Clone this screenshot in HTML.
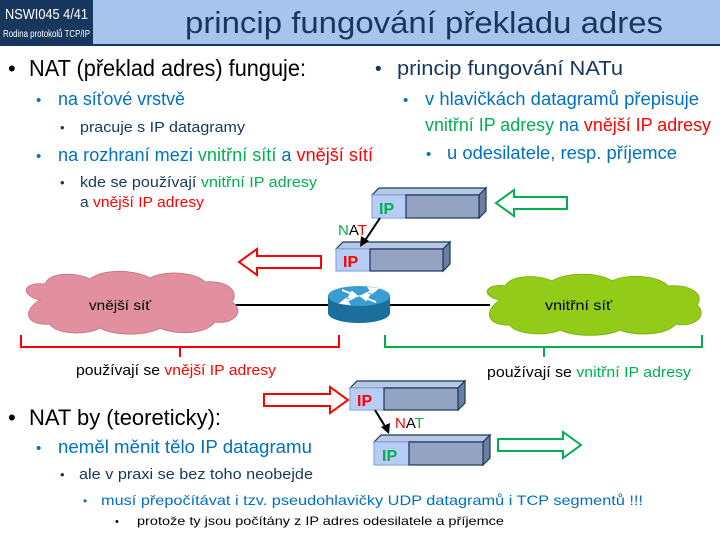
<!DOCTYPE html>
<html><head><meta charset="utf-8"><style>
html,body{margin:0;padding:0;background:#fff}
svg{display:block}
text{font-family:"Liberation Sans",sans-serif}
</style></head><body>
<svg width="720" height="540" viewBox="0 0 720 540" xmlns="http://www.w3.org/2000/svg">
<!-- header -->
<rect x="0" y="0" width="720" height="45" fill="#a8c4ec"/>
<rect x="0" y="0" width="93" height="45" fill="#17375e"/>
<rect x="0" y="44" width="720" height="2" fill="#17375e"/>
<text x="5" y="19" font-size="15" fill="#fff" textLength="83" lengthAdjust="spacingAndGlyphs">NSWI045  4/41</text>
<text x="3" y="37" font-size="10" fill="#fff" textLength="87" lengthAdjust="spacingAndGlyphs">Rodina protokolů TCP/IP</text>
<text x="185" y="33" font-size="31" fill="#17375e" textLength="478" lengthAdjust="spacingAndGlyphs">princip fungování překladu adres</text>

<!-- left top text -->
<text x="8" y="76" font-size="22" fill="#000">•</text>
<text x="29" y="76" font-size="23" fill="#000" textLength="277" lengthAdjust="spacingAndGlyphs">NAT (překlad adres) funguje:</text>
<text x="36" y="105" font-size="15" fill="#0070c0">•</text>
<text x="58" y="105" font-size="18" fill="#0070c0" textLength="127" lengthAdjust="spacingAndGlyphs">na síťové vrstvě</text>
<text x="60" y="132" font-size="13" fill="#17375e">•</text>
<text x="80" y="132" font-size="15" fill="#17375e" textLength="165" lengthAdjust="spacingAndGlyphs">pracuje s IP datagramy</text>
<text x="36" y="161" font-size="15" fill="#0070c0">•</text>
<text x="58" y="161" font-size="18" fill="#0070c0" textLength="315" lengthAdjust="spacingAndGlyphs">na rozhraní mezi <tspan fill="#00b050">vnitřní sítí</tspan> a <tspan fill="#ff0000">vnější sítí</tspan></text>
<text x="60" y="187" font-size="13" fill="#17375e">•</text>
<text x="80" y="187" font-size="15" fill="#17375e" textLength="237" lengthAdjust="spacingAndGlyphs">kde se používají <tspan fill="#00b050">vnitřní IP adresy</tspan></text>
<text x="80" y="207" font-size="15" fill="#17375e" textLength="124" lengthAdjust="spacingAndGlyphs">a <tspan fill="#ff0000">vnější IP adresy</tspan></text>

<!-- right top text -->
<text x="375" y="75" font-size="19" fill="#17375e">•</text>
<text x="397" y="75" font-size="20" fill="#17375e" textLength="226" lengthAdjust="spacingAndGlyphs">princip fungování NATu</text>
<text x="403" y="105" font-size="15" fill="#0070c0">•</text>
<text x="425" y="105" font-size="18" fill="#0070c0" textLength="274" lengthAdjust="spacingAndGlyphs">v hlavičkách datagramů přepisuje</text>
<text x="425" y="131" font-size="18" fill="#0070c0" textLength="286" lengthAdjust="spacingAndGlyphs"><tspan fill="#00b050">vnitřní IP adresy</tspan> na <tspan fill="#ff0000">vnější IP adresy</tspan></text>
<text x="426" y="159" font-size="15" fill="#0070c0">•</text>
<text x="447" y="159" font-size="18" fill="#0070c0" textLength="230" lengthAdjust="spacingAndGlyphs">u odesilatele, resp. příjemce</text>

<!-- packets -->
<g stroke="#17375e" stroke-width="1.2">
 <polygon points="372,195 379,188 486,188 479,195" fill="#b8c8e4"/>
 <polygon points="479,195 486,188 486,211 479,218" fill="#6d7f9e"/>
 <rect x="372" y="195" width="34" height="23" fill="#b7cdf5" stroke="#8eaadb"/>
 <rect x="406" y="195" width="73" height="23" fill="#95a3c3"/>
 <polygon points="336,249 343,242 450,242 443,249" fill="#b8c8e4"/>
 <polygon points="443,249 450,242 450,264 443,271" fill="#6d7f9e"/>
 <rect x="336" y="249" width="34" height="22" fill="#b7cdf5" stroke="#8eaadb"/>
 <rect x="370" y="249" width="73" height="22" fill="#95a3c3"/>
 <polygon points="350,388 357,381 465,381 458,388" fill="#b8c8e4"/>
 <polygon points="458,388 465,381 465,403 458,410" fill="#6d7f9e"/>
 <rect x="350" y="388" width="34" height="22" fill="#b7cdf5" stroke="#8eaadb"/>
 <rect x="384" y="388" width="74" height="22" fill="#95a3c3"/>
 <polygon points="374,442 381,435 490,435 483,442" fill="#b8c8e4"/>
 <polygon points="483,442 490,435 490,458 483,465" fill="#6d7f9e"/>
 <rect x="374" y="442" width="35" height="23" fill="#b7cdf5" stroke="#8eaadb"/>
 <rect x="409" y="442" width="74" height="23" fill="#95a3c3"/>
</g>
<text x="379" y="214" font-size="16" font-weight="bold" fill="#00b050">IP</text>
<text x="343" y="267" font-size="16" font-weight="bold" fill="#ff0000">IP</text>
<text x="357" y="406" font-size="16" font-weight="bold" fill="#ff0000">IP</text>
<text x="382" y="461" font-size="16" font-weight="bold" fill="#00b050">IP</text>

<!-- NAT arrows -->
<line x1="380" y1="218" x2="364" y2="242" stroke="#000" stroke-width="2"/>
<polygon points="360,247 361,236 369,241" fill="#000"/>
<text x="338" y="235" font-size="15" fill="#000"><tspan fill="#00b050">N</tspan>A<tspan fill="#ff0000">T</tspan></text>
<line x1="375" y1="410" x2="386" y2="428" stroke="#000" stroke-width="2"/>
<polygon points="389,434 381,427 390,423" fill="#000"/>
<text x="395" y="428" font-size="15" fill="#000"><tspan fill="#ff0000">N</tspan>A<tspan fill="#00b050">T</tspan></text>

<!-- hollow arrows -->
<polygon points="567,197 514,197 514,190 496,203 514,216 514,209 567,209" fill="#fff" stroke="#00b050" stroke-width="2"/>
<polygon points="321,256 257,256 257,249 239,262 257,275 257,268 321,268" fill="#fff" stroke="#ff0000" stroke-width="2"/>
<polygon points="264,394 330,394 330,387 348,400 330,413 330,406 264,406" fill="#fff" stroke="#ff0000" stroke-width="2"/>
<polygon points="498,439 563,439 563,432 581,445 563,458 563,451 498,451" fill="#fff" stroke="#00b050" stroke-width="2"/>

<!-- line -->
<line x1="230" y1="305" x2="490" y2="305" stroke="#000" stroke-width="2"/>

<!-- pink cloud -->
<path d="M40,300 C20,295 22,282 45,284 C50,272 75,272 90,279 C105,268 135,270 150,278 C165,270 195,272 205,282 C225,280 240,290 232,302 C245,310 235,325 215,322 C205,335 175,335 160,328 C145,336 115,336 100,328 C85,336 55,334 50,324 C28,326 20,312 40,300 Z" fill="#e2909f" stroke="#c77a88"/>
<text x="89" y="310" font-size="14" fill="#000" textLength="62" lengthAdjust="spacingAndGlyphs">vnější síť</text>

<!-- green cloud -->
<path d="M500,300 C480,296 485,283 505,286 C512,274 540,275 552,281 C565,272 600,272 612,281 C628,273 660,276 668,286 C690,284 705,294 697,305 C708,314 696,328 676,324 C665,336 635,336 620,330 C605,337 575,337 560,330 C545,337 515,334 510,325 C488,326 482,312 500,300 Z" fill="#92cc18" stroke="#7fb510"/>
<text x="545" y="310" font-size="14" fill="#000" textLength="67" lengthAdjust="spacingAndGlyphs">vnitřní síť</text>

<!-- router -->
<path d="M328,296 L328,313 A31,10 0 0 0 390,313 L390,296 Z" fill="#1a6f9c"/>
<ellipse cx="359" cy="296" rx="31" ry="10" fill="#3a9cd0"/>
<g stroke="#fff" stroke-width="2" fill="#fff">
<line x1="342" y1="290" x2="355" y2="295"/><polygon points="357,296 349,297 352,292"/>
<line x1="376" y1="302" x2="363" y2="297"/><polygon points="361,296 369,295 366,300"/>
<line x1="363" y1="295" x2="374" y2="290"/><polygon points="377,289 369,288 372,293"/>
<line x1="355" y1="297" x2="344" y2="302"/><polygon points="341,303 349,304 346,299"/>
</g>

<!-- brackets -->
<path d="M21,335 L21,347 L339,347 L339,335 M180,347 L180,357" fill="none" stroke="#ff0000" stroke-width="2"/>
<path d="M385,335 L385,347 L702,347 L702,335 M544,347 L544,357" fill="none" stroke="#00b050" stroke-width="2"/>
<text x="76" y="375" font-size="15" fill="#000" textLength="200" lengthAdjust="spacingAndGlyphs">používají se <tspan fill="#ff0000">vnější IP adresy</tspan></text>
<text x="487" y="377" font-size="15" fill="#000" textLength="204" lengthAdjust="spacingAndGlyphs">používají se <tspan fill="#00b050">vnitřní IP adresy</tspan></text>

<!-- bottom text -->
<text x="8" y="425" font-size="22" fill="#000">•</text>
<text x="29" y="425" font-size="22" fill="#000" textLength="192" lengthAdjust="spacingAndGlyphs">NAT by (teoreticky):</text>
<text x="36" y="453" font-size="15" fill="#0070c0">•</text>
<text x="58" y="453" font-size="18" fill="#0070c0" textLength="254" lengthAdjust="spacingAndGlyphs">neměl měnit tělo IP datagramu</text>
<text x="60" y="479" font-size="13" fill="#17375e">•</text>
<text x="79" y="479" font-size="15" fill="#17375e" textLength="234" lengthAdjust="spacingAndGlyphs">ale v praxi se bez toho neobejde</text>
<text x="83" y="505" font-size="12" fill="#0070c0">•</text>
<text x="101" y="505" font-size="14" fill="#0070c0" textLength="542" lengthAdjust="spacingAndGlyphs">musí přepočítávat i tzv. pseudohlavičky UDP datagramů i TCP segmentů !!!</text>
<text x="115" y="525" font-size="11" fill="#000">•</text>
<text x="137" y="525" font-size="12" fill="#000" textLength="367" lengthAdjust="spacingAndGlyphs">protože ty jsou počítány z IP adres odesilatele a příjemce</text>
</svg>
</body></html>
